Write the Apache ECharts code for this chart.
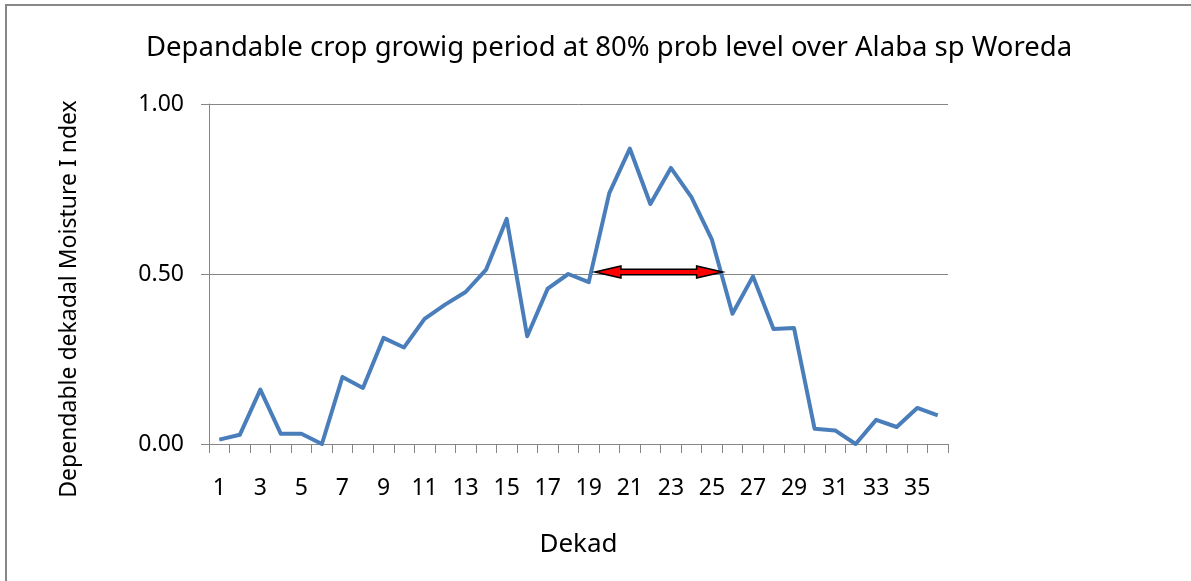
<!DOCTYPE html>
<html>
<head>
<meta charset="utf-8">
<script src="https://cdn.jsdelivr.net/npm/echarts@6/dist/echarts.min.js"></script>
<style>
html,body{margin:0;padding:0;background:#fff;}
#chart{width:1191px;height:581px;}
</style>
</head>
<body>
<div id="chart"></div>
<script>
var dekads = ['1','2','3','4','5','6','7','8','9','10','11','12','13','14','15','16','17','18','19','20','21','22','23','24','25','26','27','28','29','30','31','32','33','34','35','36'];
var moistureIndex = [0.013,0.027,0.160,0.030,0.030,0.0,0.197,0.165,0.312,0.284,0.368,0.410,0.447,0.513,0.662,0.317,0.457,0.500,0.476,0.738,0.869,0.706,0.812,0.726,0.601,0.383,0.493,0.338,0.341,0.045,0.040,0.0,0.071,0.050,0.106,0.084];
var yTicks = [0, 0.5, 1];
var periodArrow = [[19.3, 25.52, 0.506]]; // start dekad, end dekad, level

var titleText = 'Depandable crop growig period at 80% prob level over Alaba sp Woreda';
var yName = 'Dependable dekadal Moisture I ndex';
var xName = 'Dekad';

var FONT = 'Noto Sans';
var GRAY = '#868686';

var chart = echarts.init(document.getElementById('chart'), null, {renderer: 'canvas'});
chart.setOption({
  backgroundColor: '#ffffff',
  animation: false,
  title: {
    text: titleText,
    left: 141,
    top: 29,
    textStyle: {fontFamily: FONT, fontSize: 27.5, fontWeight: 'normal', color: '#000'}
  },
  grid: {left: 209, right: 243, top: 104, bottom: 137, containLabel: false},
  xAxis: [{
    type: 'category',
    data: dekads,
    boundaryGap: true,
    name: xName,
    nameLocation: 'middle',
    nameGap: 88,
    nameTextStyle: {fontFamily: FONT, fontSize: 26, color: '#000'},
    axisLine: {lineStyle: {color: GRAY, width: 1}},
    axisTick: {show: true, inside: false, length: 9, interval: 0, lineStyle: {color: GRAY}},
    axisLabel: {interval: 1, margin: 33, fontFamily: FONT, fontSize: 23, color: '#000'},
    splitLine: {show: false}
  }, {
    type: 'value',
    min: 0.5,
    max: 36.5,
    show: false
  }],
  yAxis: {
    type: 'value',
    min: yTicks[0],
    max: yTicks[yTicks.length - 1],
    interval: 0.5,
    name: yName,
    nameLocation: 'middle',
    nameRotate: 90,
    nameGap: 128,
    nameTextStyle: {fontFamily: FONT, fontSize: 23, color: '#000', padding: [0, 50, 0, 0]},
    axisLine: {show: true, lineStyle: {color: GRAY, width: 1}},
    axisTick: {show: true, length: 8, lineStyle: {color: GRAY}},
    axisLabel: {margin: 25, fontFamily: FONT, fontSize: 23, color: '#000',
      formatter: function (v) { return v.toFixed(2); }},
    splitLine: {show: true, lineStyle: {color: GRAY, width: 1}}
  },
  graphic: [
    {type: 'line', shape: {x1: 5, y1: 5, x2: 1191, y2: 5}, style: {stroke: '#878787', lineWidth: 2}, silent: true},
    {type: 'line', shape: {x1: 6, y1: 5, x2: 6, y2: 581}, style: {stroke: '#878787', lineWidth: 2}, silent: true}
  ],
  series: [{
    type: 'line',
    data: moistureIndex,
    xAxisIndex: 0,
    symbol: 'none',
    smooth: false,
    lineStyle: {color: '#4a7ebb', width: 4, join: 'round'},
    z: 3
  }, {
    type: 'custom',
    xAxisIndex: 1,
    yAxisIndex: 0,
    data: periodArrow,
    z: 5,
    renderItem: function (params, api) {
      var a = api.coord([api.value(0), api.value(2)]);
      var b = api.coord([api.value(1), api.value(2)]);
      var y = a[1], x1 = a[0], x2 = b[0];
      var sh = 2.8, hh = 6, hl = 26;
      var pts = [
        [x1, y],
        [x1 + hl, y - hh],
        [x1 + hl, y - sh],
        [x2 - hl, y - sh],
        [x2 - hl, y - hh],
        [x2, y],
        [x2 - hl, y + hh],
        [x2 - hl, y + sh],
        [x1 + hl, y + sh],
        [x1 + hl, y + hh]
      ];
      return {
        type: 'polygon',
        shape: {points: pts},
        style: {fill: '#ff0000', stroke: '#000000', lineWidth: 1.5, lineJoin: 'miter'}
      };
    }
  }]
});
</script>
</body>
</html>
